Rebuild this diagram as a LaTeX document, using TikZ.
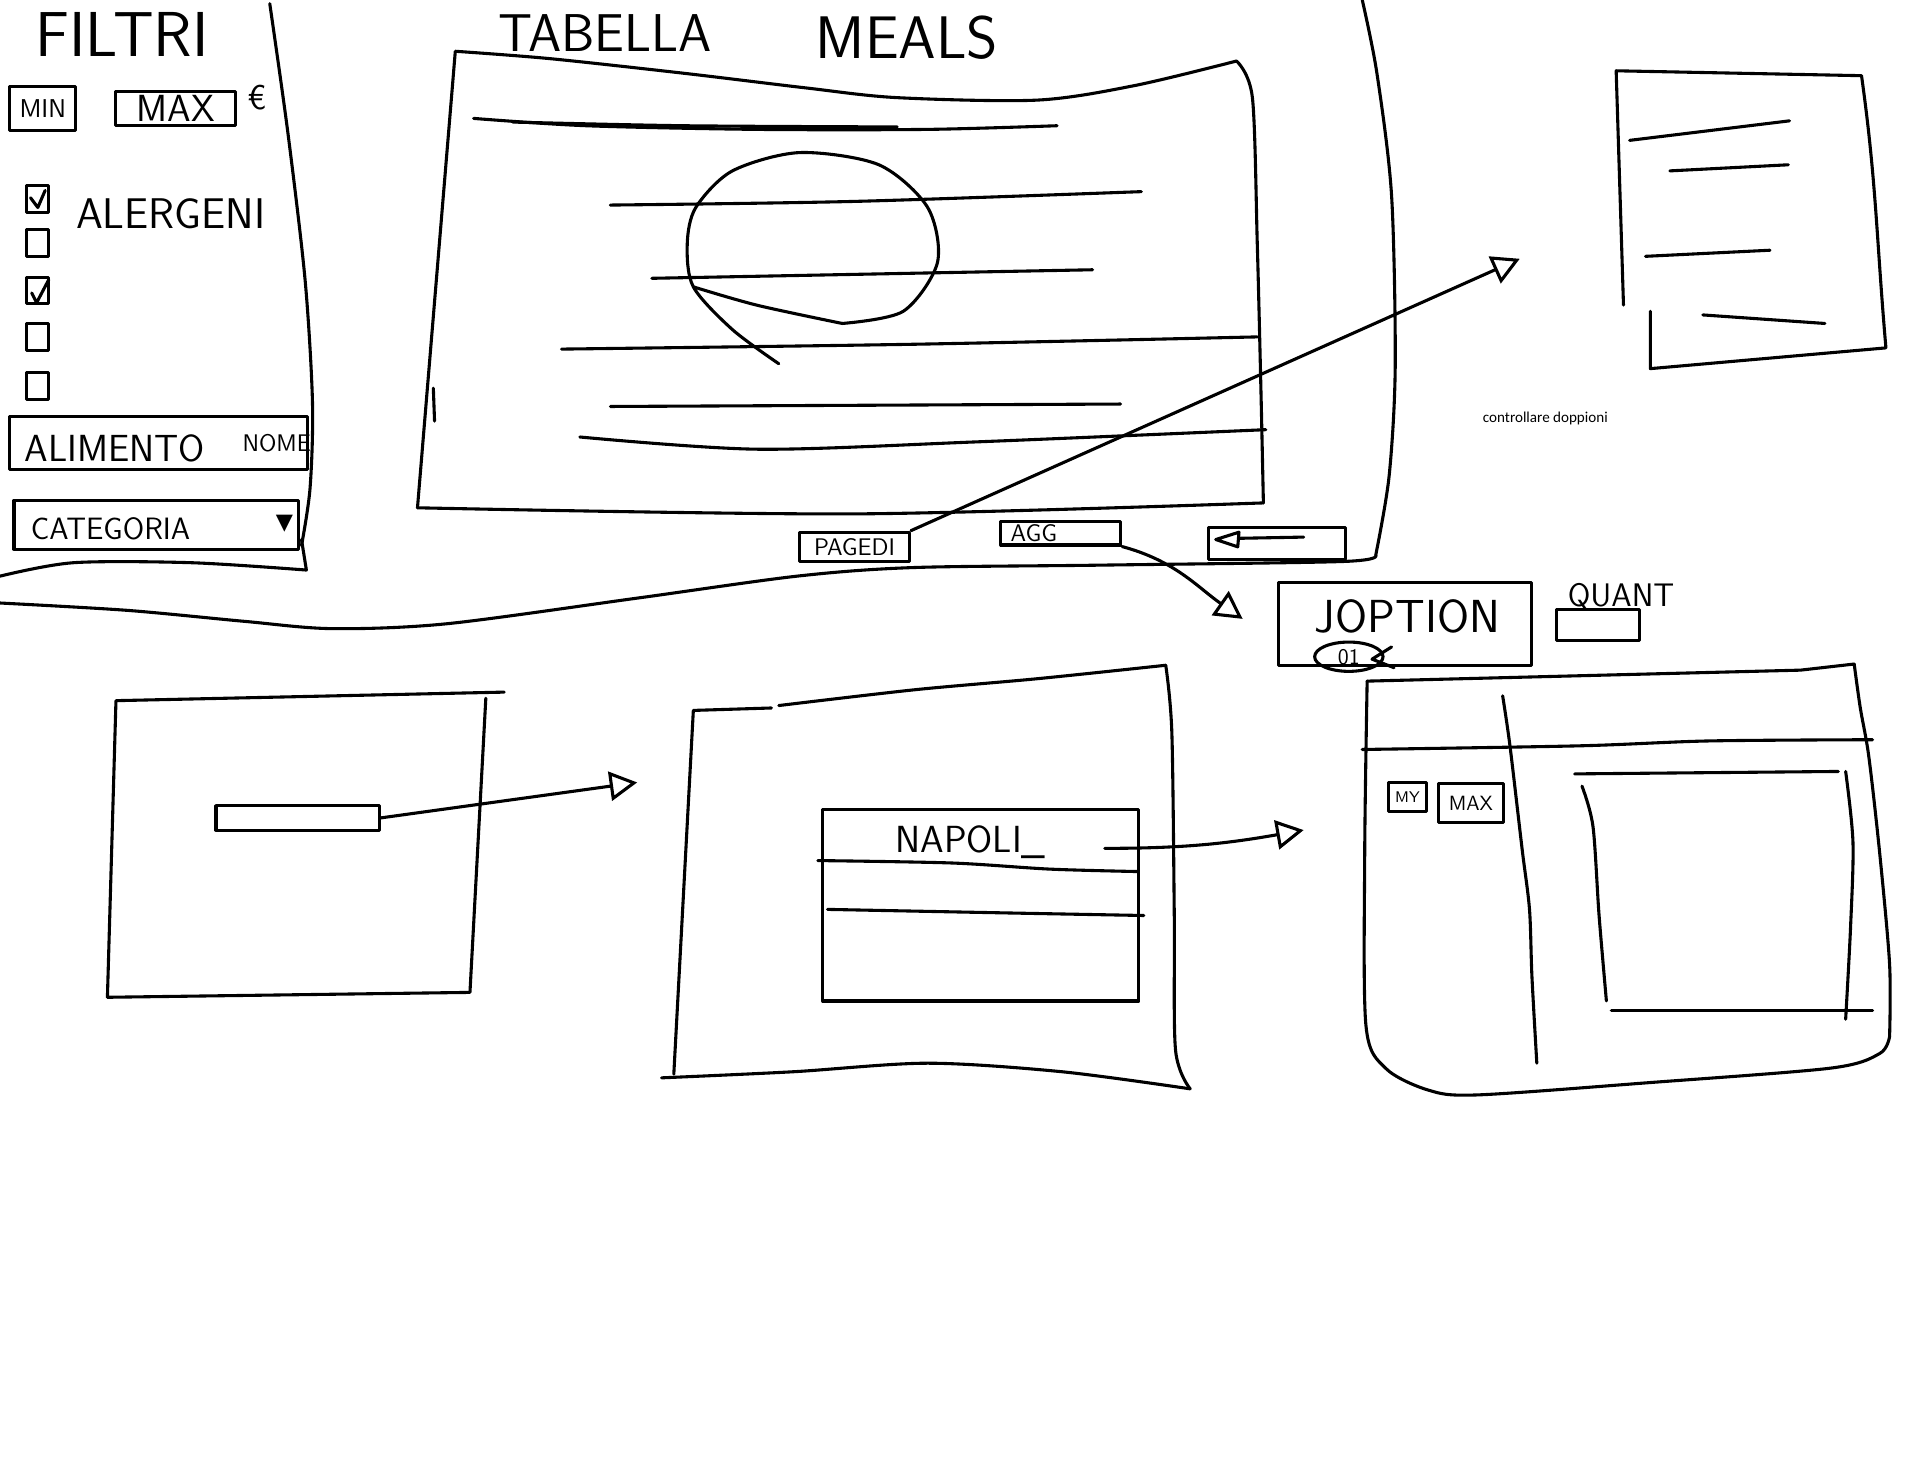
\documentclass[tikz,border=0pt]{standalone}
\usepackage{fontspec}
\usetikzlibrary{arrows.meta,positioning,shapes.geometric}
\newfontfamily\notefont{Carlito}
\newfontfamily\symfont{DejaVu Sans}
\newcommand{\fsz}[1]{\fontsize{#1}{#1}\selectfont}

\begin{document}
\begin{tikzpicture}[x=0.025cm, y=-0.025cm,
    pen/.style={line width=1.8pt, line cap=round, line join=round},
    box/.style={pen, draw, inner sep=0pt, font=\sffamily},
    hand/.style={inner sep=0pt, font=\sffamily},
    sketcharrow/.style={pen, -{Triangle[open, length=16pt, width=17pt]}}]
    \useasboundingbox (0,0) rectangle (1568,1207);

    % Filter panel
    \node[hand, font=\sffamily\fsz{37}] (filtri) at (100,28) {FILTRI};
    \node[box, minimum width=1.35cm, minimum height=0.9cm, font=\sffamily\fsz{15}] (min) at (35,89) {MIN};
    \node[box, minimum width=2.45cm, minimum height=0.7cm, font=\sffamily\fsz{22}] (max) at (144,89) {MAX};
    \node[hand, font=\sffamily\fsz{20}] (euro) at (211,80) {€};
    \foreach \y [count=\i] in {163,199,238,276,316}
        \node[box, minimum width=0.45cm, minimum height=0.55cm] (chk\i) at (31,\y) {};
    \draw[pen] (25,162) -- (31,170) -- (37,156);
    \draw[pen] (26,240) -- (30,248) -- (40,229);
    \node[hand, font=\sffamily\fsz{25}, anchor=west] (alergeni) at (62,175) {ALERGENI};
    \node[box, minimum width=6.1cm, minimum height=1.075cm] (alimbox) at (130,363) {};
    \node[hand, font=\sffamily\fsz{22}, anchor=west] (alimento) at (20,367) {ALIMENTO};
    \node[hand, font=\sffamily\fsz{14}, anchor=east] (nome) at (255,363) {NOME};
    \node[box, minimum width=5.825cm, minimum height=1.0cm] (catbox) at (128,430) {};
    \node[hand, font=\sffamily\fsz{18}, anchor=west] (categoria) at (25,433) {CATEGORIA};
    \node[hand, font=\symfont\fsz{13}] (drop) at (233,429) {▼};
    \draw[pen] plot[smooth] coordinates {(0,472) (60,461) (157,461) (251,467)} -- (247,442);
    \draw[pen] plot[smooth] coordinates {(221,3) (236,110) (250,230) (256,330) (254,400) (247,447)};

    % Page frame
    \draw[pen] plot[smooth] coordinates {(0,494) (104,500) (200,509) (272,515) (366,511) (522,490) (653,472) (747,465) (900,463) (1100,460) (1127,455)};
    \draw[pen] plot[smooth] coordinates {(1127,455) (1138,390) (1143,300) (1140,160) (1128,60) (1116,0)};

    % Meals table
    \node[hand, font=\sffamily\fsz{31}, anchor=west] (tabella) at (408,27) {TABELLA};
    \node[hand, font=\sffamily\fsz{35}, anchor=west] (meals) at (668,31) {MEALS};
    \draw[pen] (342,416) -- (373,42) plot[smooth] coordinates {(373,42) (450,48) (560,60) (660,72) (735,80) (850,82) (930,70) (1013,50)};
    \draw[pen] plot[smooth] coordinates {(1013,50) (1026,80) (1030,200) (1033,320) (1035,412)};
    \draw[pen] plot[smooth] coordinates {(342,416) (700,421) (1035,412)};
    \draw[pen] (355,318) -- (356,345);
    \draw[pen] plot[smooth] coordinates {(388,97) (480,103) (620,106) (760,106) (866,103)};
    \draw[pen] plot[smooth] coordinates {(420,100) (560,103) (735,104)};
    \draw[pen] plot[smooth] coordinates {(500,168) (700,165) (935,157)};
    \draw[pen] (534,228) -- (895,221);
    \draw[pen] plot[smooth] coordinates {(460,286) (750,282) (1030,276)};
    \draw[pen] (500,333) -- (918,331);
    \draw[pen] plot[smooth] coordinates {(475,358) (620,368) (800,362) (1037,352)};
    \draw[pen] plot[smooth] coordinates {(690,265) (740,255) (768,215) (760,170) (720,135) (655,125) (600,140) (570,170) (563,200) (568,235) (600,270) (638,298)};
    \draw[pen] plot[smooth] coordinates {(568,235) (620,250) (690,265)};

    % Buttons
    \node[box, minimum width=2.25cm, minimum height=0.6cm, font=\sffamily\fsz{14}] (pagedi) at (700,448) {PAGEDI};
    \node[box, minimum width=2.45cm, minimum height=0.475cm, text width=2.05cm, align=left, font=\sffamily\fsz{14}] (agg) at (869,437) {AGG};
    \node[box, minimum width=2.8cm, minimum height=0.65cm] (back) at (1046,445) {};
    \draw[pen] (1015,441) -- (1068,440);
    \draw[pen] (1015,436) -- (996,442) -- (1014,448) -- cycle;

    % Detail sheet
    \draw[pen] (1330,250) -- (1324,58) -- (1525,62) to[out=-82, in=95] (1545,285) -- (1352,302) -- (1352,255);
    \draw[pen] (1335,115) -- (1466,99);
    \draw[pen] (1368,140) -- (1465,135);
    \draw[pen] (1348,210) -- (1450,205);
    \draw[pen] (1395,258) -- (1495,265);
    \node[font=\notefont\fsz{8.8}] (note) at (1266,343) {controllare doppioni};

    % Option dialog
    \node[box, minimum width=5.175cm, minimum height=1.7cm] (optbox) at (1151,511) {};
    \node[hand, font=\sffamily\fsz{27}] (joption) at (1153,505) {JOPTION};
    \node[box, ellipse, minimum width=1.4cm, minimum height=0.6cm, font=\sffamily\fsz{13}] (zeroone) at (1105,538) {01};
    \draw[pen] (1140,530) -- (1124,540) -- (1142,547);
    \node[box, minimum width=1.7cm, minimum height=0.625cm] (quantbox) at (1309,512) {};
    \node[hand, font=\sffamily\fsz{19}] (quant) at (1328,489) {QUANT};

    % Search screen
    \draw[pen] (88,817) -- (95,574) -- (413,567);
    \draw[pen] (398,572) -- (385,813) -- (88,817);
    \node[box, minimum width=3.35cm, minimum height=0.5cm] (searchbar) at (244,670) {};

    % Result list screen
    \draw[pen] (552,880) -- (568,582) -- (632,580);
    \draw[pen] plot[smooth] coordinates {(638,578) (750,565) (850,556) (955,545)};
    \draw[pen] plot[smooth] coordinates {(955,545) (960,600) (962,750) (963,860) (975,892)};
    \draw[pen] plot[smooth] coordinates {(542,883) (650,878) (760,871) (870,878) (975,892)};
    \node[box, minimum width=6.475cm, minimum height=3.925cm] (listbox) at (803.5,741.5) {};
    \draw[pen] plot[smooth] coordinates {(670,705) (780,707) (860,712) (932,714)};
    \draw[pen] plot[smooth] coordinates {(678,745) (830,748) (937,750)};
    \node[hand, font=\sffamily\fsz{22}] (napoli) at (795,690) {NAPOLI\_};

    % Meal screen
    \draw[pen] (1519,544) -- (1475,549) -- (1120,558);
    \draw[pen] plot[smooth] coordinates {(1120,558) (1118,700) (1119,840) (1135,875) (1170,893) (1210,897) (1350,887) (1500,875) (1540,863) (1548,849)};
    \draw[pen] plot[smooth] coordinates {(1519,544) (1524,580) (1531,620) (1540,700) (1548,790) (1548,849)};
    \draw[pen] plot[smooth] coordinates {(1116,614) (1294,611) (1400,607) (1534,606)};
    \draw[pen] plot[smooth] coordinates {(1231,570) (1237,611) (1247,696) (1253,745) (1255,800) (1259,871)};
    \draw[pen] (1290,634) -- (1506,632);
    \draw[pen] plot[smooth] coordinates {(1512,632) (1518,690) (1516,760) (1512,835)};
    \draw[pen] (1320,828) -- (1534,828);
    \draw[pen] plot[smooth] coordinates {(1296,644) (1305,677) (1310,750) (1316,820)};
    \node[box, minimum width=0.775cm, minimum height=0.6cm, font=\sffamily\fsz{9}] (my) at (1153,653) {MY};
    \node[box, minimum width=1.325cm, minimum height=0.8cm, font=\sffamily\fsz{12}] (mymax) at (1205,658) {MAX};

    % Edges
    \coordinate (dhead) at (1245,212);
    \coordinate (optionhead) at (1018,507);
    \coordinate (midhead) at (522,641);
    \coordinate (napolitail) at (905,695);
    \coordinate (righthead) at (1068,680);
    \draw[sketcharrow] (pagedi.north east) -- (dhead);
    \draw[sketcharrow] (agg.south east) to[out=-15, in=145] (optionhead);
    \draw[sketcharrow] (searchbar.east) -- (midhead);
    \draw[sketcharrow] (napolitail) to[out=0, in=190] (righthead);
\end{tikzpicture}
\end{document}
